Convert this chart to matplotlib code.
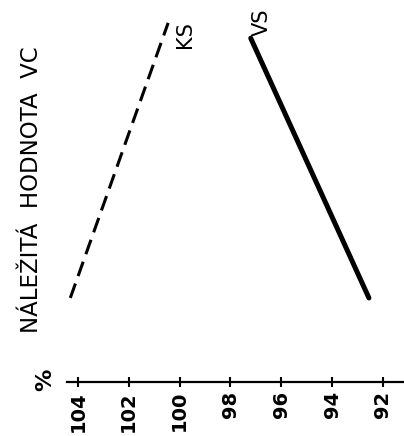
import matplotlib
matplotlib.use('Agg')
import matplotlib.pyplot as plt

ks_x = [104.3, 100.45]
ks_y = [2.2, 9.4]
vs_x = [97.2, 92.55]
vs_y = [9.0, 2.2]
ticks = [104, 102, 100, 98, 96, 94, 92]
ylabel = 'NÁLEŽITÁ  HODNOTA  VC'

plt.rcParams['font.family'] = ['DejaVu Sans']

fig = plt.figure(figsize=(4.04, 4.36), dpi=100)
ax = fig.add_axes([67 / 404, 1 - 382 / 436, 1 - 67 / 404, 382 / 436])

ax.plot(ks_x, ks_y, color='black', lw=2.2, dashes=(5, 2.6), solid_capstyle='butt')
ax.plot(vs_x, vs_y, color='black', lw=3.6, solid_capstyle='round')

ax.set_xlim(104.43, 91.17)
ax.set_ylim(0, 10)
for s in ['top', 'left', 'right']:
    ax.spines[s].set_visible(False)
ax.spines['bottom'].set_linewidth(1.6)
ax.set_yticks([])
ax.set_xticks(ticks)
ax.set_xticklabels([str(t) for t in ticks], rotation=90, fontsize=14, fontweight='bold')
ax.tick_params(axis='x', direction='inout', length=7, width=1.5, pad=3)

ax.text(99.8, 9.1, 'KS', rotation=90, fontsize=15, ha='center', va='center')
ax.text(96.76, 9.42, 'VS', rotation=90, fontsize=15, ha='center', va='center')

fig.text(45 / 404, 1 - 380 / 436, '%', rotation=90, fontsize=16, ha='center', va='center',
         fontweight='bold')
fig.text(32 / 404, 1 - 190 / 436, ylabel, rotation=90, fontsize=16.5,
         ha='center', va='center')

fig.savefig('out.png', dpi=100)
